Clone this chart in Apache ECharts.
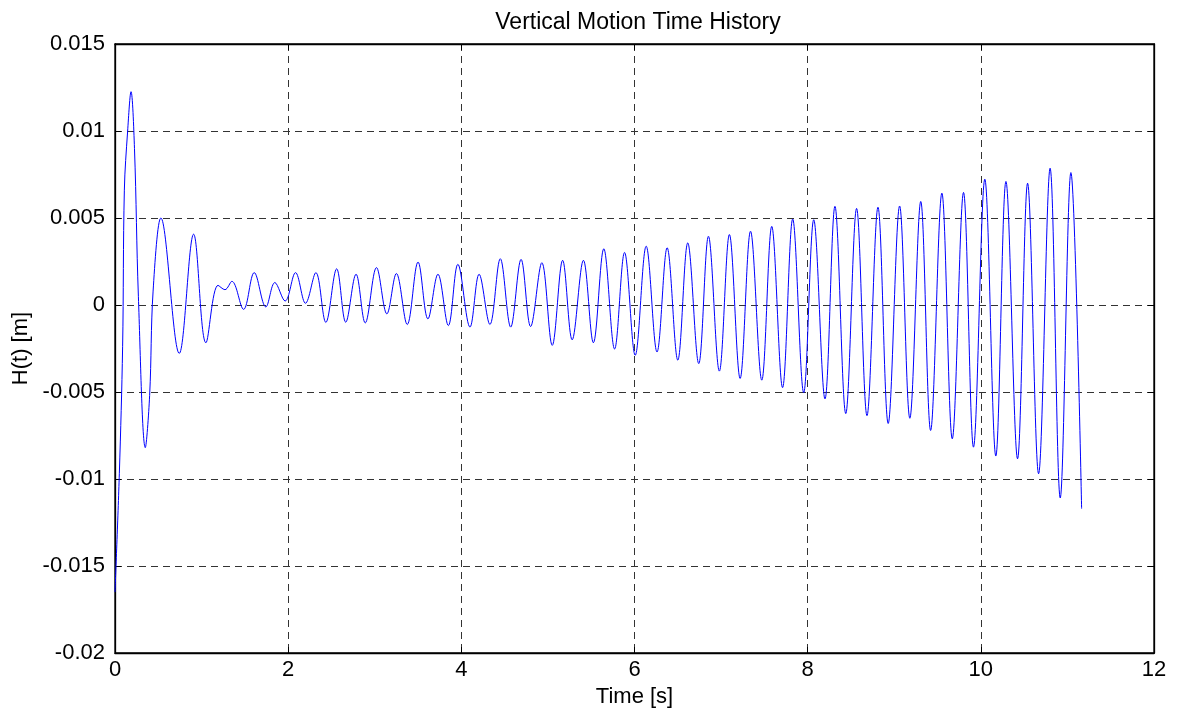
<!DOCTYPE html>
<html>
<head>
<meta charset="utf-8">
<script src="https://cdn.jsdelivr.net/npm/echarts@6/dist/echarts.min.js"></script>
<style>
html,body{margin:0;padding:0;background:#fff;}
#chart{width:1179px;height:718px;}
</style>
</head>
<body>
<div id="chart"></div>
<script>
// Time [s] and H(t) [m] (start, turning points, end)
const timeS = [0.000, 0.050, 0.088, 0.108, 0.146, 0.185, 0.225, 0.270, 0.350, 0.400, 0.440, 0.530, 0.742, 0.908, 1.050, 1.190, 1.270, 1.350, 1.485, 1.608, 1.742, 1.846, 1.965, 2.085, 2.200, 2.320, 2.435, 2.560, 2.665, 2.784, 2.890, 3.020, 3.140, 3.250, 3.375, 3.500, 3.614, 3.730, 3.850, 3.960, 4.100, 4.205, 4.330, 4.450, 4.570, 4.690, 4.800, 4.930, 5.050, 5.170, 5.280, 5.410, 5.525, 5.645, 5.770, 5.885, 6.008, 6.135, 6.260, 6.377, 6.500, 6.615, 6.742, 6.854, 6.980, 7.096, 7.220, 7.340, 7.470, 7.585, 7.710, 7.827, 7.954, 8.070, 8.200, 8.315, 8.440, 8.565, 8.685, 8.812, 8.930, 9.062, 9.180, 9.306, 9.420, 9.550, 9.670, 9.800, 9.915, 10.046, 10.173, 10.290, 10.424, 10.540, 10.667, 10.800, 10.917, 11.040, 11.164];
const heightM = [-0.0165, -0.0097, -0.0024, 0.0066, 0.0100, 0.01226, 0.0090, 0.0005, -0.0082, -0.0052, 0.0008, 0.0050, -0.00278, 0.00407, -0.00217, 0.00113, 0.00088, 0.00136, -0.00025, 0.00186, -0.00011, 0.00129, 0.00023, 0.00186, 0.00010, 0.00186, -0.00100, 0.00208, -0.00099, 0.00177, -0.00103, 0.00215, -0.00051, 0.00181, -0.00112, 0.00247, -0.00080, 0.00177, -0.00118, 0.00234, -0.00127, 0.00177, -0.00112, 0.00266, -0.00127, 0.00262, -0.00124, 0.00243, -0.00232, 0.00257, -0.00200, 0.00257, -0.00217, 0.00323, -0.00253, 0.00302, -0.00289, 0.00338, -0.00270, 0.00329, -0.00317, 0.00357, -0.00337, 0.00395, -0.00380, 0.00405, -0.00422, 0.00424, -0.00432, 0.00452, -0.00475, 0.00494, -0.00504, 0.00490, -0.00540, 0.00567, -0.00624, 0.00555, -0.00636, 0.00562, -0.00681, 0.00569, -0.00651, 0.00595, -0.00721, 0.00643, -0.00769, 0.00647, -0.00817, 0.00723, -0.00868, 0.00710, -0.00884, 0.00700, -0.00970, 0.00786, -0.01109, 0.00761, -0.01170];
const xTicks = [0, 2, 4, 6, 8, 10, 12];
const yTicks = [-0.02, -0.015, -0.01, -0.005, 0, 0.005, 0.01, 0.015];
const titleText = 'Vertical Motion Time History';
const xName = 'Time [s]';
const yName = 'H(t) [m]';

const points = timeS.map((t, i) => [t, heightM[i]]);
const font = 'Liberation Sans, Arial, Helvetica, sans-serif';
const gridDash = {color: '#333', type: [7, 5], width: 1};
const axisLineStyle = {color: '#000', width: 1.3};
const tickStyle = {show: true, inside: true, length: 6, lineStyle: {color: '#000', width: 1}};

const chart = echarts.init(document.getElementById('chart'), null, {renderer: 'canvas'});
chart.setOption({
  animation: false,
  backgroundColor: '#fff',
  title: {
    text: titleText, left: 633, top: 6, textAlign: 'center',
    textStyle: {fontFamily: font, fontSize: 23, fontWeight: 'normal', color: '#000'}
  },
  grid: {left: 115, right: 25, top: 44, bottom: 65, show: true, borderColor: '#000', borderWidth: 1.3, containLabel: false},
  xAxis: [{
    type: 'value', min: 0, max: 12, interval: 2,
    name: xName, nameLocation: 'middle', nameGap: 33,
    nameTextStyle: {fontFamily: font, fontSize: 22, color: '#000'},
    axisLine: {show: true, onZero: false, lineStyle: axisLineStyle},
    axisTick: tickStyle,
    axisLabel: {fontFamily: font, fontSize: 22, color: '#000', margin: 6,
      formatter: v => xTicks.includes(v) ? String(v) : ''},
    splitLine: {show: true, lineStyle: gridDash}
  }, {
    type: 'value', min: 0, max: 12, interval: 2, position: 'top',
    axisLine: {show: true, onZero: false, lineStyle: axisLineStyle},
    axisTick: tickStyle,
    axisLabel: {show: false}, splitLine: {show: false}
  }],
  yAxis: [{
    type: 'value', min: -0.02, max: 0.015, interval: 0.005,
    name: yName, nameLocation: 'middle', nameGap: 82, nameRotate: 90,
    nameTextStyle: {fontFamily: font, fontSize: 22, color: '#000'},
    axisLine: {show: true, onZero: false, lineStyle: axisLineStyle},
    axisTick: tickStyle,
    axisLabel: {fontFamily: font, fontSize: 22, color: '#000', margin: 10,
      formatter: v => {
        const r = Math.round(v * 1000) / 1000;
        const m = yTicks.find(t => Math.abs(t - r) < 1e-9);
        return m === undefined ? '' : String(m);
      }},
    splitLine: {show: true, lineStyle: gridDash}
  }, {
    type: 'value', min: -0.02, max: 0.015, interval: 0.005, position: 'right',
    axisLine: {show: true, onZero: false, lineStyle: axisLineStyle},
    axisTick: tickStyle,
    axisLabel: {show: false}, splitLine: {show: false}
  }],
  series: [{
    type: 'line', xAxisIndex: 0, yAxisIndex: 0,
    data: points, showSymbol: false, smooth: 0.36,
    lineStyle: {color: '#0000ff', width: 1},
    z: 5
  }]
});
</script>
</body>
</html>
